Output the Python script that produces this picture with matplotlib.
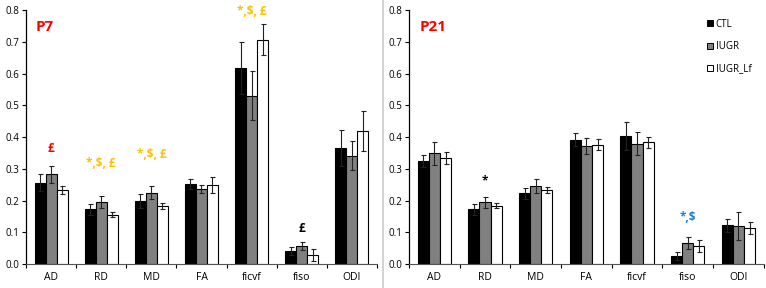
import matplotlib.pyplot as plt
import numpy as np
from matplotlib.lines import Line2D

plt.rcParams['font.family'] = ['Open Sans', 'DejaVu Sans']

CATEGORIES = ['AD', 'RD', 'MD', 'FA', 'ficvf', 'fiso', 'ODI']
GROUPS = ['CTL', 'IUGR', 'IUGR_Lf']
COLORS = ['black', '#808080', 'white']

# P7 means / errors
P7_CTL = [0.256, 0.172, 0.199, 0.252, 0.618, 0.042, 0.366]
P7_IUGR = [0.283, 0.196, 0.225, 0.236, 0.530, 0.057, 0.342]
P7_LF = [0.233, 0.156, 0.183, 0.249, 0.707, 0.028, 0.419]
P7_CTL_ERR = [0.027, 0.017, 0.022, 0.017, 0.082, 0.013, 0.056]
P7_IUGR_ERR = [0.027, 0.018, 0.021, 0.013, 0.077, 0.013, 0.046]
P7_LF_ERR = [0.013, 0.007, 0.008, 0.025, 0.048, 0.018, 0.062]

# P21 means / errors
P21_CTL = [0.325, 0.173, 0.223, 0.392, 0.403, 0.026, 0.122]
P21_IUGR = [0.349, 0.194, 0.247, 0.371, 0.379, 0.067, 0.120]
P21_LF = [0.334, 0.184, 0.234, 0.376, 0.384, 0.056, 0.114]
P21_CTL_ERR = [0.020, 0.017, 0.018, 0.021, 0.044, 0.013, 0.021]
P21_IUGR_ERR = [0.037, 0.018, 0.022, 0.025, 0.036, 0.018, 0.043]
P21_LF_ERR = [0.018, 0.007, 0.009, 0.017, 0.017, 0.019, 0.019]

# significance marks: (category index, text, colour, y)
P7_MARKS = [(0, '£', 'red', 0.365), (1, '*,$, £', '#FFC000', 0.318),
            (2, '*,$, £', '#FFC000', 0.346), (4, '*,$, £', '#FFC000', 0.794),
            (5, '£', 'black', 0.113)]
P21_MARKS = [(1, '*', 'black', 0.262), (5, '*,$', '#1E7FD8', 0.148)]


def draw_panel(ax, means, errs, title, marks):
    x = np.arange(len(CATEGORIES))
    w = 0.22
    for i, (vals, err) in enumerate(zip(means, errs)):
        ax.bar(x + (i - 1) * w, vals, w, color=COLORS[i], edgecolor='black',
               linewidth=0.8, yerr=err, capsize=1.8,
               error_kw=dict(elinewidth=0.8, capthick=0.8, ecolor='#222222'),
               label=GROUPS[i])
    ax.set_xlim(-0.5, len(CATEGORIES) - 0.5)
    ax.set_ylim(0, 0.8)
    ax.set_yticks(np.arange(0, 0.81, 0.1))
    ax.set_yticklabels([f'{v:.1f}' for v in np.arange(0, 0.81, 0.1)], fontsize=7)
    ax.set_xticks(x)
    ax.set_xticklabels(CATEGORIES, fontsize=7.5)
    ax.set_xticks(np.arange(-0.5, len(CATEGORIES)), minor=True)
    ax.tick_params(axis='x', which='major', length=0, pad=6)
    ax.tick_params(axis='x', which='minor', length=3, width=0.8)
    ax.tick_params(axis='y', length=3, width=0.8, pad=2)
    for s in ['top', 'right']:
        ax.spines[s].set_visible(False)
    ax.spines['left'].set_linewidth(0.9)
    ax.spines['bottom'].set_color('#555555')
    ax.text(-0.3, 0.746, title, color='red', fontsize=11, fontweight='bold',
            va='center')
    for idx, txt, col, y in marks:
        ax.text(idx, y, txt, color=col, fontsize=8.5, fontweight='bold',
                ha='center', va='center')


fig = plt.figure(figsize=(7.66, 2.88), dpi=100)
ax1 = fig.add_axes([0.034, 0.083, 0.458, 0.882])
ax2 = fig.add_axes([0.534, 0.083, 0.463, 0.882])

draw_panel(ax1, [P7_CTL, P7_IUGR, P7_LF], [P7_CTL_ERR, P7_IUGR_ERR, P7_LF_ERR], 'P7', P7_MARKS)
draw_panel(ax2, [P21_CTL, P21_IUGR, P21_LF], [P21_CTL_ERR, P21_IUGR_ERR, P21_LF_ERR], 'P21', P21_MARKS)

handles = [Line2D([], [], marker='s', linestyle='none', markersize=5,
                  markerfacecolor=c, markeredgecolor='black', markeredgewidth=0.7)
           for c in COLORS]
ax2.legend(handles, GROUPS, loc='upper left', bbox_to_anchor=(0.81, 1.0),
           frameon=False, fontsize=7, handletextpad=0.1, labelspacing=1.15,
           handlelength=1.0)

fig.add_artist(Line2D([0.5, 0.5], [0.0, 1.0], color='#cccccc', linewidth=1.2,
                      transform=fig.transFigure))

fig.savefig('out.png', dpi=100)
